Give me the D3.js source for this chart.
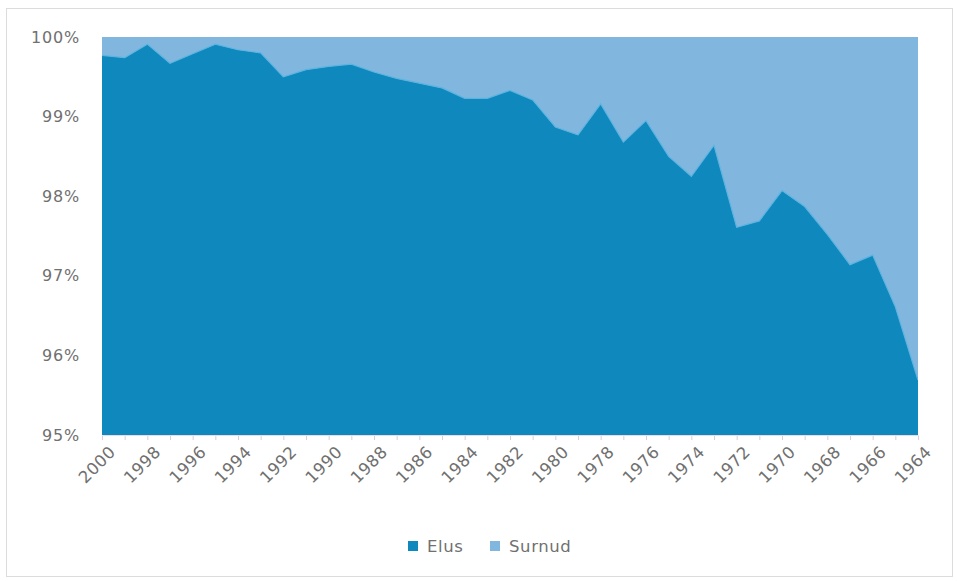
<!DOCTYPE html>
<html>
<head>
<meta charset="utf-8">
<script src="https://cdn.jsdelivr.net/npm/d3@7"></script>
<style>
  html, body { margin: 0; padding: 0; background: #fff; }
  svg { display: block; }
  text { font-family: "DejaVu Sans", Lato, sans-serif; fill: #707070; }
</style>
</head>
<body>
<svg id="chart" width="957" height="581"></svg>
<script>
const years = [2000,1999,1998,1997,1996,1995,1994,1993,1992,1991,1990,1989,1988,1987,1986,1985,1984,1983,1982,1981,1980,1979,1978,1977,1976,1975,1974,1973,1972,1971,1970,1969,1968,1967,1966,1965,1964];
const elus = [99.77,99.74,99.91,99.67,99.79,99.91,99.84,99.80,99.50,99.59,99.63,99.66,99.56,99.48,99.42,99.36,99.23,99.23,99.33,99.21,98.87,98.77,99.16,98.68,98.95,98.50,98.25,98.64,97.61,97.69,98.07,97.87,97.52,97.14,97.26,96.61,95.69];
const surnud = [0.23,0.26,0.09,0.33,0.21,0.09,0.16,0.20,0.50,0.41,0.37,0.34,0.44,0.52,0.58,0.64,0.77,0.77,0.67,0.79,1.13,1.23,0.84,1.32,1.05,1.50,1.75,1.36,2.39,2.31,1.93,2.13,2.48,2.86,2.74,3.39,4.31];
const seriesNames = ["Elus", "Surnud"];
const seriesColors = ["#0f89bd", "#81b7df"];
const yTicks = [0.95, 0.96, 0.97, 0.98, 0.99, 1.00];

const svg = d3.select("#chart");
const margin = {left: 102, right: 39, top: 37, bottom: 146};
const W = 957, H = 581;

svg.append("rect").attr("x", 6.5).attr("y", 8.5).attr("width", 946).attr("height", 568)
  .attr("fill", "#fff").attr("stroke", "#dcdcdc");

const x = d3.scalePoint().domain(years).range([margin.left, W - margin.right]);
const y = d3.scaleLinear().domain([0.95, 1.0]).range([H - margin.bottom, margin.top]);

const table = years.map((yr, i) => ({year: yr, Elus: elus[i], Surnud: surnud[i]}));
const stack = d3.stack().keys(seriesNames).offset(d3.stackOffsetExpand);
const layers = stack(table);

const clipId = "plotclip";
svg.append("clipPath").attr("id", clipId).append("rect")
  .attr("x", margin.left).attr("y", margin.top)
  .attr("width", W - margin.right - margin.left).attr("height", H - margin.bottom - margin.top);

const area = d3.area()
  .x(d => x(d.data.year))
  .y0(d => y(Math.max(d[0], 0.95)))
  .y1(d => y(Math.max(d[1], 0.95)));

const g = svg.append("g").attr("clip-path", `url(#${clipId})`);
g.selectAll("path.layer").data(layers.slice().reverse()).join("path")
  .attr("class", "layer")
  .attr("d", area)
  .attr("fill", d => seriesColors[seriesNames.indexOf(d.key)]);

// boundary highlight
g.append("path")
  .datum(layers[0])
  .attr("d", d3.line().x(d => x(d.data.year)).y(d => y(d[1])))
  .attr("fill", "none").attr("stroke", "#5db3e0").attr("stroke-width", 1.2);

// y axis labels
const yAxis = d3.axisLeft(y).tickValues(yTicks).tickFormat(d3.format(".0%")).tickSize(0).tickPadding(22);
const ya = svg.append("g").attr("transform", `translate(${margin.left},0)`).call(yAxis);
ya.select(".domain").remove();
ya.selectAll("text").style("font-size", "16px").style("font-family", "'DejaVu Sans', sans-serif")
  .style("letter-spacing", "0.8px").attr("fill", "#707070");

// x axis
const xAxis = d3.axisBottom(x).tickSize(4).tickPadding(6)
  .tickFormat(d => (2000 - d) % 2 === 0 ? String(d) : "");
const xa = svg.append("g").attr("transform", `translate(0,${H - margin.bottom})`).call(xAxis);
xa.select(".domain").attr("stroke", "#e8dde6");
xa.selectAll(".tick line").attr("stroke", "#e3c9d9").attr("transform", "translate(0,1)");
xa.selectAll("text")
  .style("font-size", "16.5px").style("font-family", "'DejaVu Sans', sans-serif")
  .style("letter-spacing", "0.5px").attr("fill", "#707070")
  .attr("text-anchor", "end")
  .attr("dy", "0")
  .attr("transform", "translate(7,11) rotate(-45)");

// legend
const legend = svg.append("g").attr("transform", "translate(408,546)");
const items = [{name: "Elus", x: 0}, {name: "Surnud", x: 82}];
items.forEach((it, i) => {
  const lg = legend.append("g").attr("transform", `translate(${it.x},0)`);
  lg.append("rect").attr("x", 0).attr("y", -5).attr("width", 10).attr("height", 10)
    .attr("fill", seriesColors[i]);
  lg.append("text").attr("x", 19).attr("y", 0).attr("dy", "0.35em")
    .style("font-size", "16.5px").style("letter-spacing", "0.6px").attr("fill", "#707070").text(it.name);
});
</script>
</body>
</html>
